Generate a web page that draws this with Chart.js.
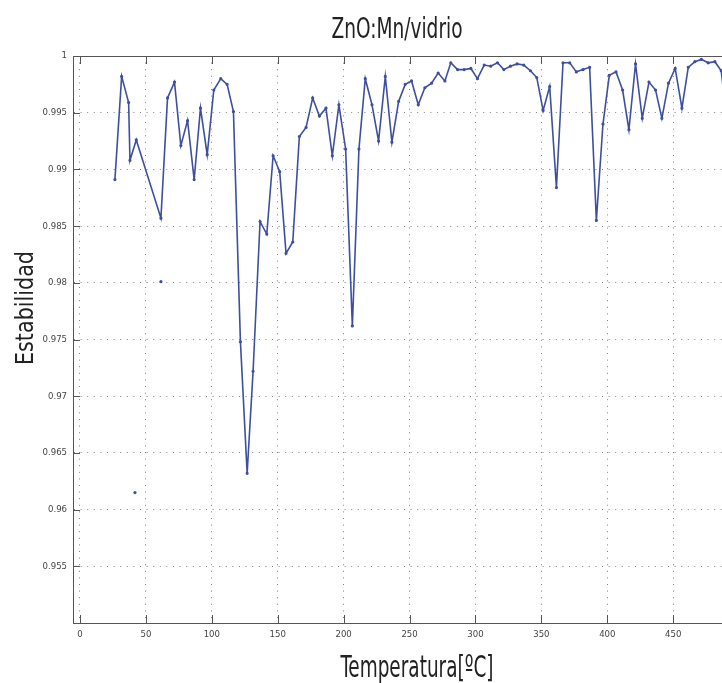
<!DOCTYPE html>
<html>
<head>
<meta charset="utf-8">
<script src="https://cdn.jsdelivr.net/npm/chart.js@4.4.1/dist/chart.umd.min.js"></script>
<style>
  html, body { margin: 0; padding: 0; background: #fff; overflow: hidden; }
  #wrap { width: 722px; height: 683px; position: relative; }
</style>
</head>
<body>
<div id="wrap"><canvas id="chart"></canvas></div>
<script>
// Temperatura (ºC) and estabilidad
const temperatura = [
  26.5, 31.6, 36.9, 37.9, 42.7, 61.4, 66.4, 71.7, 76.5, 81.6,
  86.6, 91.4, 96.5, 101.5, 106.8, 111.6, 116.4, 121.7, 126.8, 131.3,
  136.6, 141.7, 146.5, 151.5, 156.3, 161.4, 166.4, 171.5, 176.5, 181.6,
  186.6, 191.4, 196.4, 201.5, 206.6, 211.6, 216.4, 221.5, 226.5, 231.6,
  236.6, 241.7, 246.7, 251.5, 256.6, 261.6, 266.7, 271.7, 276.8, 281.3,
  286.4, 291.4, 296.5, 301.5, 306.6, 311.6, 316.7, 321.5, 326.5, 331.6,
  336.6, 341.7, 346.5, 351.3, 356.3, 361.4, 366.4, 371.5, 376.5, 381.6,
  386.6, 391.7, 396.7, 401.5, 406.6, 411.6, 416.4, 421.4, 426.5, 431.6,
  436.6, 441.4, 446.4, 451.5, 456.6, 461.4, 466.4, 471.4, 476.5, 481.6,
  486.4, 491.5
];
const estabilidad = [
  0.9891, 0.9982, 0.9959, 0.9908, 0.9926, 0.9857, 0.9963, 0.9977, 0.9921, 0.9943,
  0.9891, 0.9954, 0.9913, 0.9970, 0.9980, 0.9975, 0.9951, 0.9748, 0.9632, 0.9722,
  0.9854, 0.9843, 0.9912, 0.9898, 0.9826, 0.9836, 0.9929, 0.9937, 0.9963, 0.9947,
  0.9954, 0.9912, 0.9957, 0.9918, 0.9762, 0.9918, 0.9980, 0.9957, 0.9925, 0.9982,
  0.9924, 0.9960, 0.9975, 0.9978, 0.9957, 0.9972, 0.9976, 0.9985, 0.9978, 0.9994,
  0.9988, 0.9988, 0.9989, 0.9980, 0.9992, 0.9991, 0.9994, 0.9988, 0.9991, 0.9993,
  0.9992, 0.9987, 0.9981, 0.9952, 0.9973, 0.9884, 0.9994, 0.9994, 0.9986, 0.9988,
  0.9990, 0.9855, 0.9940, 0.9983, 0.9986, 0.9970, 0.9935, 0.9993, 0.9945, 0.9977,
  0.9970, 0.9945, 0.9976, 0.9989, 0.9954, 0.9990, 0.9995, 0.9997, 0.9994, 0.9995,
  0.9987, 0.9935
];
// two loose points that are not joined to the line
const sueltosT = [41.7, 61.4];
const sueltosE = [0.9615, 0.9801];

const xTicks = [0, 50, 100, 150, 200, 250, 300, 350, 400, 450];
const yTicks = [0.955, 0.96, 0.965, 0.97, 0.975, 0.98, 0.985, 0.99, 0.995, 1];

const titulo = "ZnO:Mn/vidrio";
const xTitulo = "Temperatura[ºC]";
const yTitulo = "Estabilidad";

const FONT = "'DejaVu Sans Condensed', 'DejaVu Sans', sans-serif";
const LINE = "#3d4f9e";
const AXIS = "#555";

Chart.defaults.font.family = FONT;

// the picture's labels are tall and narrow, so squeeze them to the measured width
function drawNarrow(ctx, text, x, y, size, width, angle) {
  ctx.save();
  ctx.translate(x, y);
  if (angle) ctx.rotate(angle);
  ctx.font = size + "px " + FONT;
  const w = ctx.measureText(text).width;
  ctx.scale(width / w, 1);
  ctx.textAlign = "center";
  ctx.textBaseline = "alphabetic";
  ctx.fillStyle = "#222";
  ctx.fillText(text, 0, 0);
  ctx.restore();
}

// inward tick marks, top border and the titles
const matlabFrame = {
  id: "matlabFrame",
  afterDraw(chart) {
    const { ctx, chartArea } = chart;
    const { left, top, right, bottom } = chartArea;
    const xs = chart.scales.x;
    const ys = chart.scales.y;
    ctx.save();
    ctx.strokeStyle = AXIS;
    ctx.lineWidth = 1;
    ctx.beginPath();
    ctx.moveTo(left, top + 0.5);
    ctx.lineTo(right, top + 0.5);
    xTicks.forEach((v) => {
      const px = Math.round(xs.getPixelForValue(v)) + 0.5;
      ctx.moveTo(px, bottom);
      ctx.lineTo(px, bottom - 8);
      ctx.moveTo(px, top);
      ctx.lineTo(px, top + 8);
    });
    yTicks.forEach((v) => {
      const py = Math.round(ys.getPixelForValue(v)) + 0.5;
      ctx.moveTo(left, py);
      ctx.lineTo(left + 7, py);
    });
    ctx.stroke();
    ctx.restore();

    drawNarrow(ctx, titulo, 397, 38, 28, 131);
    drawNarrow(ctx, xTitulo, 417, 677, 31, 153);
    drawNarrow(ctx, yTitulo, 33, 308, 25, 114, -Math.PI / 2);
  },
};

const ctx = document.getElementById("chart").getContext("2d");
const chart = new Chart(ctx, {
  type: "line",
  data: {
    datasets: [
      {
        label: "Estabilidad",
        data: temperatura.map((t, i) => ({ x: t, y: estabilidad[i] })),
        borderColor: LINE,
        backgroundColor: LINE,
        borderWidth: 1.6,
        pointRadius: 0.8,
        pointHoverRadius: 0.8,
        tension: 0,
        fill: false,
      },
      {
        label: "sueltos",
        data: sueltosT.map((t, i) => ({ x: t, y: sueltosE[i] })),
        showLine: false,
        borderColor: LINE,
        backgroundColor: LINE,
        pointRadius: 1.6,
        pointHoverRadius: 1.6,
        pointBorderWidth: 0,
      },
    ],
  },
  options: {
    responsive: true,
    maintainAspectRatio: false,
    animation: false,
    layout: { autoPadding: false, padding: { top: 56, left: 0, right: 0, bottom: 0 } },
    plugins: {
      legend: { display: false },
      tooltip: { enabled: false },
      title: { display: false, text: titulo },
    },
    scales: {
      x: {
        type: "linear",
        min: -5.3,
        max: 487,
        bounds: "data",
        afterFit: (s) => {
          s.height = 60;
          s.paddingLeft = 0;
          s.paddingRight = 0;
        },
        afterBuildTicks: (s) => { s.ticks = xTicks.map((v) => ({ value: v })); },
        grid: { color: "#808080", lineWidth: 1, drawTicks: false },
        border: { display: true, color: AXIS, width: 1, dash: [1, 5.6] },
        ticks: {
          color: "#444",
          padding: 6,
          maxRotation: 0,
          autoSkip: false,
          font: { size: 9.5 },
          callback: (v) => String(v),
        },
      },
      y: {
        min: 0.95,
        max: 1,
        bounds: "data",
        afterFit: (s) => {
          s.width = 73;
          s.paddingTop = 0;
          s.paddingBottom = 0;
        },
        afterBuildTicks: (s) => { s.ticks = yTicks.map((v) => ({ value: v })); },
        grid: { color: "#808080", lineWidth: 1, drawTicks: false },
        border: { display: true, color: AXIS, width: 1, dash: [1, 5.6] },
        ticks: {
          color: "#444",
          padding: 6,
          autoSkip: false,
          font: { size: 9.5 },
          callback: (v) => String(+Number(v).toFixed(3)),
        },
      },
    },
  },
  plugins: [matlabFrame],
});
</script>
</body>
</html>
